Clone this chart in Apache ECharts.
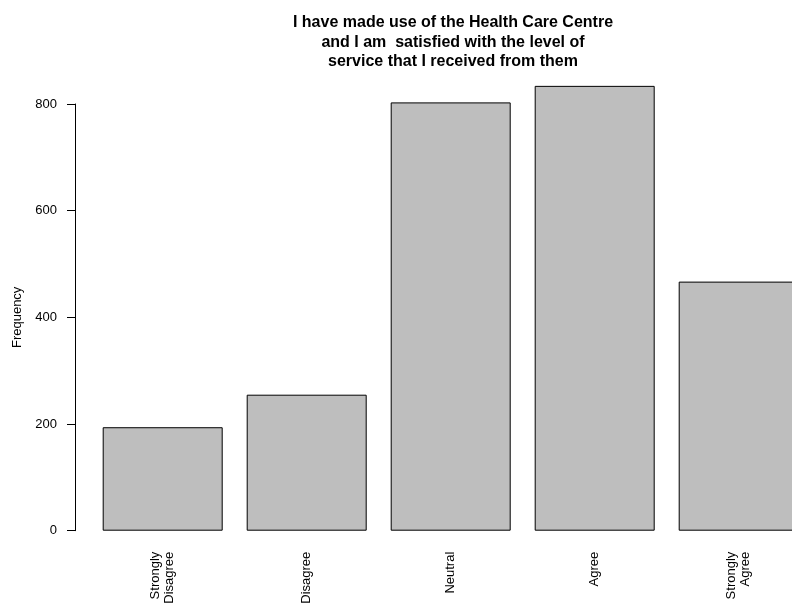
<!DOCTYPE html>
<html>
<head>
<meta charset="utf-8">
<style>html,body{margin:0;padding:0;background:#fff}#c{width:792px;height:605px}</style>
<script src="https://cdn.jsdelivr.net/npm/echarts@6/dist/echarts.min.js"></script>
</head>
<body>
<div id="c"></div>
<script>
var categories = ["Strongly\nDisagree", "Disagree", "Neutral", "Agree", "Strongly\nAgree"];
var frequencies = [194, 255, 803, 834, 467];
var yTicks = [0, 200, 400, 600, 800];
var titleText = "I have made use of the Health Care Centre\nand I am  satisfied with the level of\nservice that I received from them";
var FONT = '"Liberation Sans", Arial, Helvetica, sans-serif';

var chart = echarts.init(document.getElementById('c'), null, {renderer: 'canvas'});
chart.setOption({
  animation: false,
  backgroundColor: '#ffffff',
  title: {
    text: titleText,
    left: 448, top: 8, textAlign: 'center',
    textStyle: {fontFamily: FONT, fontSize: 16, fontWeight: 'bold', color: '#000', lineHeight: 19.5}
  },
  grid: {left: 90.7, width: 720, top: 104, height: 426.7, containLabel: false, outerBoundsMode: 'none'},
  xAxis: {
    type: 'category',
    data: categories,
    axisLine: {show: false},
    axisTick: {show: false},
    splitLine: {show: false},
    axisLabel: {rotate: 90, margin: 21, interval: 0, fontFamily: FONT, fontSize: 13, color: '#000', lineHeight: 14}
  },
  yAxis: {
    type: 'value',
    min: yTicks[0], max: yTicks[yTicks.length - 1], interval: 200,
    offset: 15.7,
    name: 'Frequency', nameLocation: 'middle', nameRotate: 90, nameGap: 51,
    nameTextStyle: {fontFamily: FONT, fontSize: 13, color: '#000'},
    axisLine: {show: true, lineStyle: {color: '#000', width: 1}},
    axisTick: {show: true, inside: false, length: 8, lineStyle: {color: '#000', width: 1}},
    axisLabel: {margin: 18, fontFamily: FONT, fontSize: 13, color: '#000'},
    splitLine: {show: false}
  },
  series: [{
    type: 'bar',
    data: frequencies,
    barWidth: 120,
    clip: false,
    itemStyle: {color: '#BEBEBE', borderColor: '#000', borderWidth: 1}
  }]
});
</script>
</body>
</html>
